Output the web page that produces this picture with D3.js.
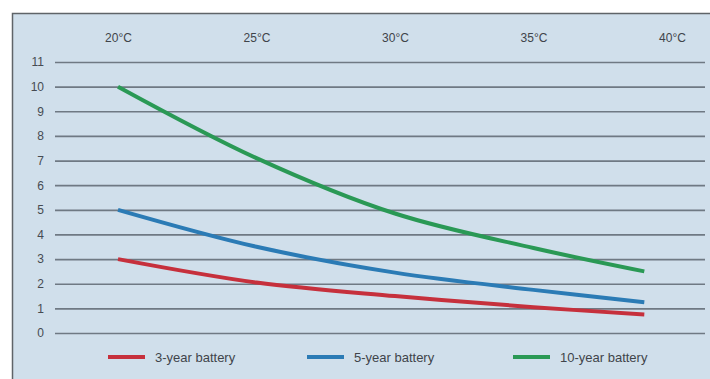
<!DOCTYPE html>
<html>
<head>
<meta charset="utf-8">
<script src="https://cdn.jsdelivr.net/npm/d3@7"></script>
<style>
  html, body { margin: 0; padding: 0; background: #ffffff; }
  svg { display: block; font-family: "Liberation Sans", Arial, sans-serif; }
</style>
</head>
<body>
<svg id="chart" width="710" height="379"></svg>
<script>
// Battery life (years) versus ambient temperature
const temperatures = [20, 25, 30, 35, 39];
const tempTicks = [20, 25, 30, 35, 40];
const yTicks = [0, 1, 2, 3, 4, 5, 6, 7, 8, 9, 10, 11];
const threeYear = [3.0, 2.05, 1.5, 1.05, 0.75];
const fiveYear = [5.0, 3.5, 2.45, 1.75, 1.25];
const tenYear = [10.0, 7.1, 4.85, 3.45, 2.5];
const seriesNames = ["3-year battery", "5-year battery", "10-year battery"];
const seriesColors = ["#c6303c", "#2b7bb5", "#2a9955"];

const series = [threeYear, fiveYear, tenYear].map((vals, i) => ({
  name: seriesNames[i],
  color: seriesColors[i],
  points: vals.map((v, j) => ({ t: temperatures[j], v }))
}));

const svg = d3.select("#chart");

// panel
svg.append("rect")
  .attr("x", 12.5).attr("y", 13.5)
  .attr("width", 710).attr("height", 400)
  .attr("fill", "#d0dfeb")
  .attr("stroke", "#5f6468").attr("stroke-width", 1.5);

const x = d3.scaleLinear().domain([20, 40]).range([118, 672]);
const y = d3.scaleLinear().domain([0, 11]).range([333, 62]);

// horizontal gridlines with value labels
const yAxis = d3.axisLeft(y)
  .tickValues(yTicks)
  .tickSize(-650)
  .tickPadding(11)
  .tickFormat(d3.format("d"));
const gy = svg.append("g").attr("transform", "translate(55,0)").call(yAxis);
gy.select(".domain").remove();
gy.selectAll(".tick line")
  .attr("stroke", "#6f7983").attr("stroke-width", 1.7);
gy.selectAll(".tick text")
  .attr("fill", "#464b52").attr("font-size", 12);

// temperature labels along the top
const xAxis = d3.axisTop(x)
  .tickValues(tempTicks)
  .tickSize(0)
  .tickFormat(d => d + "°C");
const gx = svg.append("g").attr("transform", "translate(0,45)").call(xAxis);
gx.select(".domain").remove();
gx.selectAll(".tick text")
  .attr("fill", "#3f444a").attr("font-size", 12);

// curves
const line = d3.line()
  .x(d => x(d.t))
  .y(d => y(d.v))
  .curve(d3.curveCatmullRom.alpha(0.5));

svg.append("g").selectAll("path")
  .data(series)
  .join("path")
  .attr("d", d => line(d.points))
  .attr("fill", "none")
  .attr("stroke", d => d.color)
  .attr("stroke-width", 4)
  .attr("stroke-linecap", "butt");

// legend
const legendX = [108, 307, 513];
const legend = svg.append("g").selectAll("g")
  .data(series)
  .join("g")
  .attr("transform", (d, i) => `translate(${legendX[i]},357)`);
legend.append("line")
  .attr("x1", 0).attr("x2", 37)
  .attr("stroke", d => d.color).attr("stroke-width", 4);
legend.append("text")
  .attr("x", 47).attr("dy", "0.35em")
  .attr("font-size", 13)
  .attr("fill", "#3f444a")
  .text(d => d.name);
</script>
</body>
</html>
